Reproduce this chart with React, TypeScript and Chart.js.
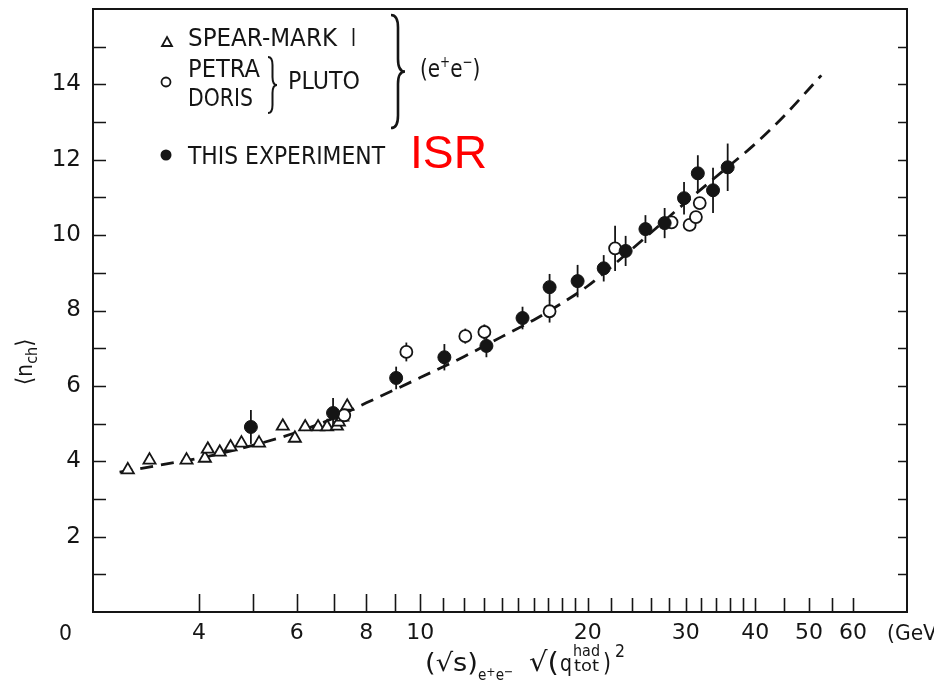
import React, { useEffect, useRef } from 'react';
import { Chart, registerables } from 'chart.js';
Chart.register(...registerables);

// ---- data ----
const spearX = [2.98, 3.26, 3.80, 4.10, 4.15, 4.36, 4.56, 4.77, 5.13, 5.66, 5.95, 6.21, 6.55, 6.80, 7.08, 7.14, 7.24, 7.39];
const spearY = [3.77, 4.03, 4.03, 4.08, 4.32, 4.24, 4.38, 4.48, 4.48, 4.93, 4.61, 4.91, 4.91, 4.91, 4.93, 5.04, 5.17, 5.46];

const plutoX = [7.3, 9.44, 12.05, 13.04, 17.08, 22.4, 28.3, 30.5, 31.3, 31.8];
const plutoY = [5.22, 6.9, 7.32, 7.43, 7.98, 9.65, 10.34, 10.27, 10.48, 10.85];
const plutoErr = [0, 0.25, 0.2, 0.2, 0.3, 0.6, 0.15, 0, 0, 0];

const isrX = [4.96, 6.97, 9.05, 11.05, 13.15, 15.27, 17.08, 19.18, 21.37, 23.4, 25.4, 27.5, 29.8, 31.55, 33.6, 35.7];
const isrY = [4.91, 5.28, 6.21, 6.76, 7.06, 7.8, 8.62, 8.78, 9.12, 9.58, 10.16, 10.32, 10.98, 11.64, 11.19, 11.8];
const isrErr = [0.45, 0.4, 0.3, 0.35, 0.3, 0.3, 0.35, 0.43, 0.35, 0.4, 0.37, 0.4, 0.43, 0.48, 0.6, 0.63];

const fitX = [2.88, 3.5, 4, 5, 6, 7, 8, 9, 10, 12, 14, 16, 18, 20, 25, 30, 35, 40, 45, 52.6];
const fitY = [3.71, 3.93, 4.08, 4.42, 4.77, 5.15, 5.55, 5.9, 6.22, 6.78, 7.3, 7.75, 8.2, 8.65, 9.85, 10.87, 11.7, 12.42, 13.15, 14.24];

const xTickValues = [4, 5, 6, 7, 8, 9, 10, 11, 12, 13, 14, 15, 16, 17, 18, 19, 20, 22, 24, 26, 28, 30, 32, 34, 36, 38, 40, 45, 50, 55, 60];
const xTickLabels = [4, 6, 8, 10, 20, 30, 40, 50, 60];
const yTickLabels = [2, 4, 6, 8, 10, 12, 14];

const FONT = '"DejaVu Sans", sans-serif';
const INK = '#151515';

function pts(xs: number[], ys: number[]) {
  return xs.map((x, i) => ({ x, y: ys[i] }));
}

function text(ctx: CanvasRenderingContext2D, s: string, x: number, y: number, size: number, w?: number, family = FONT, color = INK) {
  ctx.save();
  ctx.font = `${size}px ${family}`;
  ctx.fillStyle = color;
  ctx.textAlign = 'left';
  ctx.textBaseline = 'alphabetic';
  ctx.translate(x, y);
  if (w) {
    const m = ctx.measureText(s).width;
    ctx.scale(w / m, 1);
  }
  ctx.fillText(s, 0, 0);
  ctx.restore();
}

type Piece = { t: string; size: number; dy?: number; gap?: number };
function seq(ctx: CanvasRenderingContext2D, pieces: Piece[], x: number, y: number, sx = 1) {
  let cx = x;
  for (const p of pieces) {
    ctx.font = `${p.size}px ${FONT}`;
    const w = ctx.measureText(p.t).width * sx;
    text(ctx, p.t, cx, y + (p.dy || 0), p.size, w);
    cx += w + (p.gap || 0);
  }
  return cx - x;
}

function brace(ctx: CanvasRenderingContext2D, x: number, y1: number, y2: number, w: number) {
  const m = (y1 + y2) / 2;
  const h = w / 2;
  const r = Math.min(w * 0.9, (y2 - y1) / 6);
  ctx.beginPath();
  ctx.moveTo(x, y1);
  ctx.quadraticCurveTo(x + h, y1, x + h, y1 + r);
  ctx.lineTo(x + h, m - r);
  ctx.quadraticCurveTo(x + h, m, x + w, m);
  ctx.quadraticCurveTo(x + h, m, x + h, m + r);
  ctx.lineTo(x + h, y2 - r);
  ctx.quadraticCurveTo(x + h, y2, x, y2);
  ctx.stroke();
}

const overlay = {
  id: 'overlay',
  beforeDatasetsDraw(chart: any) {
    const ctx: CanvasRenderingContext2D = chart.ctx;
    const xs = chart.scales.x;
    const ys = chart.scales.y;
    ctx.save();
    ctx.strokeStyle = INK;
    ctx.lineWidth = 1.8;
    const sets: [number[], number[], number[]][] = [
      [plutoX, plutoY, plutoErr],
      [isrX, isrY, isrErr],
    ];
    for (const [X, Y, E] of sets) {
      X.forEach((xv, i) => {
        if (!E[i]) return;
        const px = xs.getPixelForValue(xv);
        ctx.beginPath();
        ctx.moveTo(px, ys.getPixelForValue(Y[i] - E[i]));
        ctx.lineTo(px, ys.getPixelForValue(Y[i] + E[i]));
        ctx.stroke();
      });
    }
    ctx.restore();
  },
  afterDraw(chart: any) {
    const ctx: CanvasRenderingContext2D = chart.ctx;
    const a = chart.chartArea;
    const xs = chart.scales.x;
    const ys = chart.scales.y;
    ctx.save();
    // frame
    ctx.strokeStyle = INK;
    ctx.lineWidth = 2;
    ctx.strokeRect(a.left, a.top, a.right - a.left, a.bottom - a.top);
    // inward ticks
    ctx.lineWidth = 1.6;
    ctx.beginPath();
    for (const v of xTickValues) {
      const px = Math.round(xs.getPixelForValue(v)) + 0.5;
      const len = v <= 10 ? 18 : 14;
      ctx.moveTo(px, a.bottom);
      ctx.lineTo(px, a.bottom - len);
    }
    for (let v = 1; v < 16; v++) {
      const py = Math.round(ys.getPixelForValue(v)) + 0.5;
      ctx.moveTo(a.left, py);
      ctx.lineTo(a.left + 13, py);
      ctx.moveTo(a.right, py);
      ctx.lineTo(a.right - 9, py);
    }
    ctx.stroke();

    // extra axis texts
    const labelY = a.bottom + 28;
    text(ctx, '0', 59, labelY, 22, 13);
    text(ctx, '(GeV', 887, labelY, 22, 50);

    // x axis title
    text(ctx, '(√s)', 425, 671, 25, 53);
    seq(ctx, [{ t: 'e', size: 16 }, { t: '+', size: 13, dy: -4 }, { t: 'e', size: 16 }, { t: '−', size: 13, dy: -4 }], 478, 680, 0.85);
    text(ctx, '√(', 529, 671, 27, 30);
    text(ctx, 'q', 560, 671, 23, 12);
    text(ctx, 'had', 573, 656, 15, 27);
    text(ctx, 'tot', 574, 671, 15, 25);
    text(ctx, ')', 603, 671, 25, 8);
    text(ctx, '2', 615, 657, 17, 10);

    // y axis title (rotated)
    ctx.save();
    ctx.translate(32, 357);
    ctx.rotate(-Math.PI / 2);
    seq(ctx, [{ t: '⟨', size: 23 }, { t: 'n', size: 23 }, { t: 'ch', size: 16, dy: 5 }, { t: '⟩', size: 23 }], -28, 0, 0.9);
    ctx.restore();

    // legend
    ctx.strokeStyle = INK;
    ctx.fillStyle = INK;
    ctx.lineWidth = 1.8;
    ctx.beginPath();
    ctx.moveTo(167, 37);
    ctx.lineTo(172, 46);
    ctx.lineTo(162, 46);
    ctx.closePath();
    ctx.stroke();
    ctx.beginPath();
    ctx.arc(166, 82, 4.5, 0, Math.PI * 2);
    ctx.stroke();
    ctx.beginPath();
    ctx.arc(166, 155, 5.5, 0, Math.PI * 2);
    ctx.fill();

    text(ctx, 'SPEAR-MARK', 188, 46, 24, 149);
    text(ctx, 'I', 351, 46, 24, 5);
    text(ctx, 'PETRA', 188, 77, 24, 72);
    text(ctx, 'DORIS', 188, 106, 24, 65);
    ctx.lineWidth = 2;
    brace(ctx, 268, 57, 113, 9);
    text(ctx, 'PLUTO', 288, 89, 24, 72);
    ctx.lineWidth = 2.6;
    brace(ctx, 391, 15, 128, 14);
    seq(ctx, [{ t: '(e', size: 25 }, { t: '+', size: 15, dy: -10 }, { t: 'e', size: 25 }, { t: '−', size: 15, dy: -10 }, { t: ')', size: 25 }], 420, 77, 0.8);
    text(ctx, 'THIS EXPERIMENT', 188, 164, 24, 197);
    text(ctx, 'ISR', 410, 168, 46, 77, '"Liberation Sans", Arial, sans-serif', '#ff0000');
    ctx.restore();
  },
};

export default function App() {
  const ref = useRef<HTMLCanvasElement>(null);
  useEffect(() => {
    if (!ref.current) return;
    const chart = new Chart(ref.current, {
      type: 'scatter',
      data: {
        datasets: [
          {
            label: 'THIS EXPERIMENT',
            data: pts(isrX, isrY),
            pointStyle: 'circle',
            pointRadius: 6.5,
            backgroundColor: INK,
            borderColor: INK,
            borderWidth: 1,
          },
          {
            label: 'PETRA / DORIS (PLUTO)',
            data: pts(plutoX, plutoY),
            pointStyle: 'circle',
            pointRadius: 6,
            backgroundColor: '#ffffff',
            borderColor: INK,
            borderWidth: 1.8,
          },
          {
            label: 'SPEAR-MARK I',
            data: pts(spearX, spearY),
            pointStyle: 'triangle',
            pointRadius: 7,
            backgroundColor: '#ffffff',
            borderColor: INK,
            borderWidth: 1.8,
          },
          {
            label: 'fit',
            data: pts(fitX, fitY),
            showLine: true,
            pointRadius: 0,
            borderColor: INK,
            borderWidth: 2.8,
            borderDash: [13, 8],
            cubicInterpolationMode: 'monotone',
            fill: false,
          },
        ],
      } as any,
      options: {
        responsive: false,
        animation: false,
        devicePixelRatio: 1,
        layout: { padding: { left: 0, top: 9, right: 27, bottom: 0 } },
        plugins: { legend: { display: false }, tooltip: { enabled: false } },
        scales: {
          x: {
            type: 'logarithmic',
            min: 2.58,
            max: 75,
            afterBuildTicks: (scale: any) => {
              scale.ticks = xTickValues.map((v) => ({ value: v }));
            },
            afterFit: (scale: any) => {
              scale.height = 72;
              scale.paddingLeft = 0;
              scale.paddingRight = 0;
            },
            grid: { display: false, drawTicks: false },
            border: { display: false },
            ticks: {
              autoSkip: false,
              maxRotation: 0,
              padding: 8,
              color: INK,
              font: { family: 'DejaVu Sans', size: 22 },
              callback: (v: any) => (xTickLabels.includes(Number(v)) ? String(v) : ''),
            },
          },
          y: {
            type: 'linear',
            min: 0,
            max: 16,
            afterFit: (scale: any) => {
              scale.width = 93;
              scale.paddingTop = 0;
              scale.paddingBottom = 0;
            },
            grid: { display: false, drawTicks: false },
            border: { display: false },
            ticks: {
              stepSize: 1,
              autoSkip: false,
              padding: 12,
              color: INK,
              font: { family: 'DejaVu Sans', size: 23 },
              callback: (v: any) => (yTickLabels.includes(Number(v)) ? String(v) : ''),
            },
          },
        },
      } as any,
      plugins: [overlay],
    });
    return () => chart.destroy();
  }, []);
  return (
    <div style={{ position: 'absolute', left: 0, top: 0, width: 934, height: 684, background: '#fff' }}>
      <canvas ref={ref} width={934} height={684} />
    </div>
  );
}
